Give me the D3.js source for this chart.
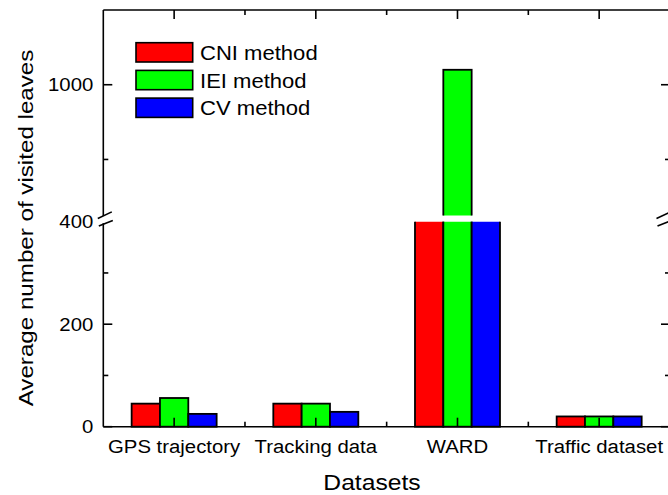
<!DOCTYPE html>
<html>
<head>
<meta charset="utf-8">
<script src="https://cdn.jsdelivr.net/npm/d3@7"></script>
<style>
  html, body { margin: 0; padding: 0; background: #fff; }
  svg { display: block; font-family: "Liberation Sans", Arial, sans-serif; }
</style>
</head>
<body>
<svg id="chart" width="668" height="495"></svg>
<script>
// Datasets on the x axis and the three methods compared
const categories = ["GPS trajectory", "Tracking data", "WARD", "Traffic dataset"];
const methods = ["CNI method", "IEI method", "CV method"];

// Average number of visited leaves per dataset
const cniValues = [45, 45, 600, 20];
const ieiValues = [56, 45, 1020, 20];
const cvValues = [25, 29, 600, 20];

// Broken y axis: lower and upper segments
const lowerDomain = [0, 400];
const upperDomain = [825, 1100];
const lowerMajorTicks = [0, 200, 400];
const lowerMinorTicks = [100, 300];
const upperMajorTicks = [1000];
const upperMinorTicks = [900];

const colors = ["#ff0000", "#00ff00", "#0000ff"];
const seriesValues = [cniValues, ieiValues, cvValues];

const svg = d3.select("#chart");
const plotLeft = 103.3, plotRight = 670, plotTop = 10, plotBottom = 426.7;
const lowerTop = 221.7, upperBottom = 215.5;

const x = d3.scalePoint().domain(categories).range([plotLeft, plotRight]).padding(0.5);
const step = x.step();
const xSub = d3.scaleBand().domain(methods).range([-0.3 * step, 0.3 * step]);
const yLow = d3.scaleLinear().domain(lowerDomain).range([plotBottom, lowerTop]);
const yHigh = d3.scaleLinear().domain(upperDomain).range([upperBottom, plotTop]);

// stretch text horizontally by factor k
function widen(sel, k) {
  sel.each(function () {
    const w = this.getComputedTextLength();
    this.setAttribute("textLength", w * k);
    this.setAttribute("lengthAdjust", "spacingAndGlyphs");
  });
}

const defs = svg.append("defs");
defs.append("clipPath").attr("id", "clipLow")
  .append("rect").attr("x", plotLeft).attr("y", lowerTop).attr("width", plotRight - plotLeft).attr("height", plotBottom - lowerTop + 2);
defs.append("clipPath").attr("id", "clipHigh")
  .append("rect").attr("x", plotLeft).attr("y", plotTop).attr("width", plotRight - plotLeft).attr("height", upperBottom - plotTop);

const rows = [];
categories.forEach((c, i) => {
  methods.forEach((m, j) => rows.push({ cat: c, method: m, value: seriesValues[j][i], color: colors[j] }));
});

// lower segment bars
svg.append("g").attr("clip-path", "url(#clipLow)")
  .selectAll("rect").data(rows).join("rect")
  .attr("x", d => x(d.cat) + xSub(d.method))
  .attr("width", xSub.bandwidth())
  .attr("y", d => yLow(d.value))
  .attr("height", d => yLow(0) - yLow(d.value))
  .attr("fill", d => d.color)
  .attr("stroke", "#000").attr("stroke-width", 1.8);

// upper segment bars (only values reaching into the upper range)
svg.append("g").attr("clip-path", "url(#clipHigh)")
  .selectAll("rect").data(rows.filter(d => d.value > upperDomain[0])).join("rect")
  .attr("x", d => x(d.cat) + xSub(d.method))
  .attr("width", xSub.bandwidth())
  .attr("y", d => yHigh(d.value))
  .attr("height", d => yHigh(upperDomain[0]) + 10 - yHigh(d.value))
  .attr("fill", d => d.color)
  .attr("stroke", "#000").attr("stroke-width", 1.8);

// frame and ticks
const axes = svg.append("g").attr("stroke", "#000").attr("stroke-width", 1.6).attr("fill", "none");
axes.append("line").attr("x1", plotLeft).attr("x2", plotRight).attr("y1", plotTop).attr("y2", plotTop);
axes.append("line").attr("x1", plotLeft).attr("x2", plotRight).attr("y1", plotBottom).attr("y2", plotBottom);
[[plotLeft, 2], [plotRight, -6]].forEach(([ax, off]) => {
  axes.append("line").attr("x1", ax).attr("x2", ax).attr("y1", plotTop).attr("y2", upperBottom + 0.5);
  axes.append("line").attr("x1", ax).attr("x2", ax).attr("y1", lowerTop + 1.5).attr("y2", plotBottom);
  // break marks
  const c = ax + off;
  axes.append("line").attr("x1", c - 7.5).attr("y1", upperBottom + 3).attr("x2", c + 6.5).attr("y2", upperBottom - 3.6);
  axes.append("line").attr("x1", c - 6.5).attr("y1", lowerTop + 4.3).attr("x2", c + 7.5).attr("y2", lowerTop - 1.2);
});

const majorLen = 9, minorLen = 5;
// y ticks, both sides pointing inward
function yTicks(vals, scale, len) {
  vals.forEach(v => {
    const y = scale(v);
    axes.append("line").attr("x1", plotLeft).attr("x2", plotLeft + len).attr("y1", y).attr("y2", y);
    axes.append("line").attr("x1", plotRight).attr("x2", plotRight - len).attr("y1", y).attr("y2", y);
  });
}
yTicks(lowerMajorTicks.filter(v => v < lowerDomain[1]), yLow, majorLen);
yTicks(lowerMinorTicks, yLow, minorLen);
yTicks(upperMajorTicks, yHigh, majorLen);
yTicks(upperMinorTicks, yHigh, minorLen);

// x ticks at categories and halfway between them
categories.forEach((c, i) => {
  const xc = x(c);
  axes.append("line").attr("x1", xc).attr("x2", xc).attr("y1", plotBottom).attr("y2", plotBottom - majorLen);
  axes.append("line").attr("x1", xc).attr("x2", xc).attr("y1", plotTop).attr("y2", plotTop + majorLen);
  if (i < categories.length - 1) {
    const xm = xc + step / 2;
    axes.append("line").attr("x1", xm).attr("x2", xm).attr("y1", plotBottom).attr("y2", plotBottom - minorLen);
    axes.append("line").attr("x1", xm).attr("x2", xm).attr("y1", plotTop).attr("y2", plotTop + minorLen);
  }
});

// y tick labels
const yLabels = svg.append("g").attr("font-size", 18).attr("text-anchor", "end").attr("fill", "#000");
lowerMajorTicks.forEach(v => {
  yLabels.append("text").attr("x", 93.3).attr("y", yLow(v) + 6.4).text(v);
});
upperMajorTicks.forEach(v => {
  yLabels.append("text").attr("x", 93.3).attr("y", yHigh(v) + 6.4).text(v);
});
widen(yLabels.selectAll("text"), 1.13);

// x tick labels
const xLabels = svg.append("g").attr("font-size", 18).attr("text-anchor", "middle").attr("fill", "#000")
  .selectAll("text").data(categories).join("text")
  .attr("x", d => x(d)).attr("y", 453).text(d => d);
widen(xLabels, 1.13);

// axis titles
const xTitle = svg.append("text").attr("x", 372).attr("y", 490).attr("font-size", 22)
  .attr("text-anchor", "middle").text("Datasets");
widen(xTitle, 1.12);
const yTitle = svg.append("text").attr("transform", "translate(33.3,228) rotate(-90)")
  .attr("font-size", 21).attr("text-anchor", "middle").text("Average number of visited leaves");
widen(yTitle, 1.15);

// legend
const legend = svg.append("g");
methods.forEach((m, j) => {
  const y0 = 42.7 + j * 27.7;
  legend.append("rect").attr("x", 136).attr("y", y0).attr("width", 56.7).attr("height", 19.3)
    .attr("fill", colors[j]).attr("stroke", "#000").attr("stroke-width", 1.6);
  legend.append("text").attr("x", 200).attr("y", y0 + 17.3).attr("font-size", 21).text(m);
});
widen(legend.selectAll("text"), 1.05);
</script>
</body>
</html>
